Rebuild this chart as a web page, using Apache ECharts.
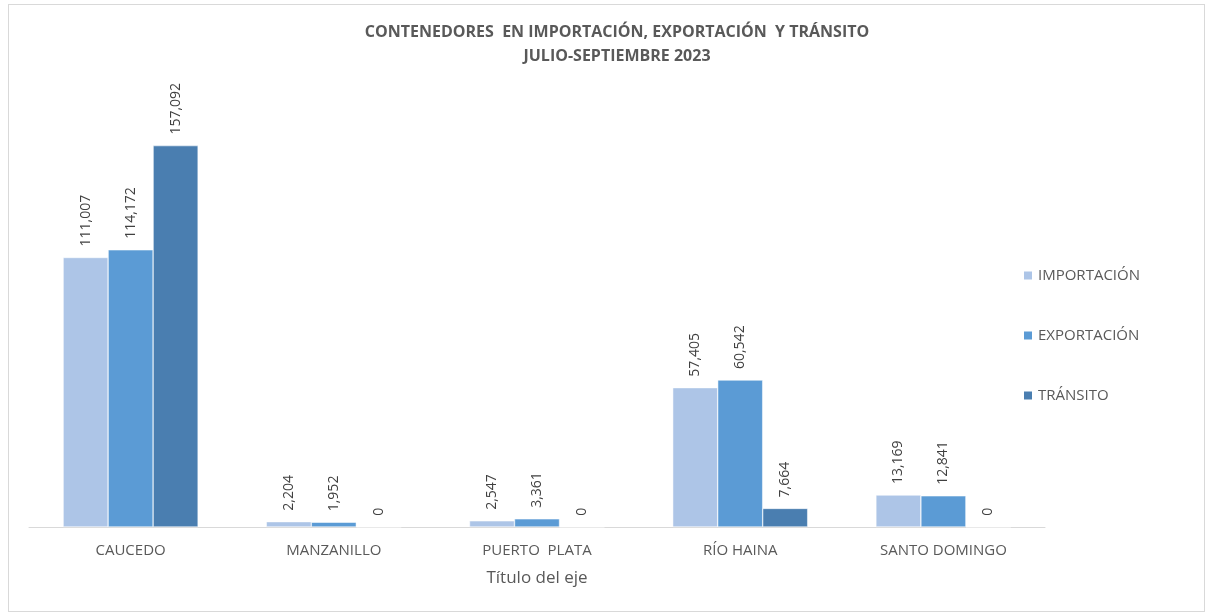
<!DOCTYPE html>
<html>
<head>
<meta charset="utf-8">
<script src="https://cdn.jsdelivr.net/npm/echarts@6/dist/echarts.min.js"></script>
<style>
	html, body { margin: 0; padding: 0; background: #fff; }
	#frame { position: absolute; left: 8px; top: 4px; width: 1195px; height: 606px; border: 1px solid #d9d9d9; }
	#chart { position: absolute; left: 0; top: 0; width: 1207px; height: 613px; }
</style>
</head>
<body>
<div id="frame"></div>
<div id="chart"></div>
<script>
var categories = ['CAUCEDO', 'MANZANILLO', 'PUERTO  PLATA', 'RÍO HAINA', 'SANTO DOMINGO'];
var importacion = [111007, 2204, 2547, 57405, 13169];
var exportacion = [114172, 1952, 3361, 60542, 12841];
var transito = [157092, 0, 0, 7664, 0];
var seriesNames = ['IMPORTACIÓN', 'EXPORTACIÓN', 'TRÁNSITO'];
var colors = ['#adc5e7', '#5b9bd5', '#4a7eb0'];

var chart = echarts.init(document.getElementById('chart'));

function makeSeries(name, data, color) {
	return {
		name: name,
		type: 'bar',
		data: data,
		barWidth: 45,
		barGap: '0%',
		itemStyle: { color: color, borderColor: '#ffffff', borderWidth: 0.5 },
		label: {
			show: true,
			position: 'top',
			rotate: 90,
			align: 'left',
			verticalAlign: 'middle',
			distance: 11,
			color: '#404040',
			fontSize: 14,
			fontFamily: 'Open Sans',
			formatter: function(p) { return p.value.toLocaleString('en-US'); }
		}
	};
}

chart.setOption({
	animation: false,
	textStyle: { fontFamily: 'Open Sans' },
	title: {
		text: 'CONTENEDORES  EN IMPORTACIÓN, EXPORTACIÓN  Y TRÁNSITO\nJULIO-SEPTIEMBRE 2023',
		left: 612,
		textAlign: 'center',
		top: 15,
		textStyle: { fontSize: 16, fontWeight: 'bold', color: '#595959', lineHeight: 24, fontFamily: 'Open Sans' }
	},
	legend: {
		orient: 'vertical',
		left: 1017,
		top: 263,
		itemWidth: 10,
		itemHeight: 10,
		itemGap: 45,
		icon: 'rect',
		textStyle: { fontSize: 15, color: '#595959', fontFamily: 'Open Sans' },
		data: seriesNames
	},
	grid: { left: 29, right: 162, top: 90, bottom: 86 },
	xAxis: {
		type: 'category',
		data: categories,
		axisLine: { lineStyle: { color: '#d9d9d9', width: 1 } },
		axisTick: { show: false },
		axisLabel: { color: '#595959', fontSize: 15, margin: 16, fontFamily: 'Open Sans' },
		name: 'Título del eje',
		nameLocation: 'middle',
		nameGap: 43,
		nameTextStyle: { color: '#595959', fontSize: 17, fontFamily: 'Open Sans' }
	},
	yAxis: {
		type: 'value',
		min: 0,
		max: 180000,
		show: false,
		splitLine: { show: false }
	},
	series: [
		makeSeries(seriesNames[0], importacion, colors[0]),
		makeSeries(seriesNames[1], exportacion, colors[1]),
		makeSeries(seriesNames[2], transito, colors[2])
	]
});
</script>
</body>
</html>
